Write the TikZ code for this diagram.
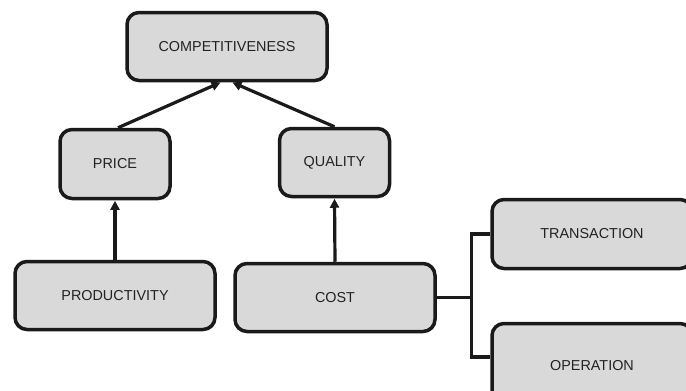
\documentclass[tikz,border=0pt]{standalone}
\usepackage{fontspec}
\setmainfont{Liberation Sans}
\usetikzlibrary{arrows.meta}
\definecolor{boxfill}{HTML}{D9D9D9}
\definecolor{ink}{HTML}{1A1A1A}
\definecolor{txt}{HTML}{222222}
\begin{document}
\begin{tikzpicture}[x=1pt,y=-1pt,
  card/.style={draw=ink, line width=3.5pt, fill=boxfill, rounded corners=12pt,
    text=txt, font=\fontsize{14.4}{17}\selectfont, inner sep=0pt, align=center},
  link/.style={draw=ink, line width=3.2pt},
  arr/.style={link, -{Triangle[length=9pt,width=9pt]}, shorten >=0.5pt}]
  \useasboundingbox (0,0) rectangle (686,391);
  \clip (0,0) rectangle (686,391);

  % boxes
  \node[card, minimum width=200pt, minimum height=68pt] (comp) at (227,46.5) {COMPETITIVENESS};
  \node[card, minimum width=110pt, minimum height=69pt] (price) at (115,164) {PRICE};
  \node[card, minimum width=110pt, minimum height=68pt] (qual) at (334.5,162.5) {QUALITY};
  \node[card, minimum width=200pt, minimum height=68pt] (prod) at (115,295.5) {PRODUCTIVITY};
  \node[card, minimum width=200pt, minimum height=68pt] (cost) at (335,297.5) {COST};
  \node[card, minimum width=200pt, minimum height=69pt] (trans) at (592,234) {TRANSACTION};
  \node[card, minimum width=200pt, minimum height=85pt] (oper) at (592,366) {OPERATION};

  % upward arrows
  \draw[arr] (prod.north) -- (price.south);
  \draw[arr] (cost.north) -- (qual.south);
  \draw[arr] ([xshift=3pt]price.north) -- ([xshift=-6pt]comp.south);
  \draw[arr] (qual.north) -- ([xshift=5pt]comp.south);

  % bracket from cost to its two parts
  \coordinate (j) at ([xshift=35pt]cost.east);
  \draw[link] (cost.east) -- (j);
  \draw[link] (trans.west) -| (j) |- ([yshift=9pt]oper.west);
\end{tikzpicture}
\end{document}
